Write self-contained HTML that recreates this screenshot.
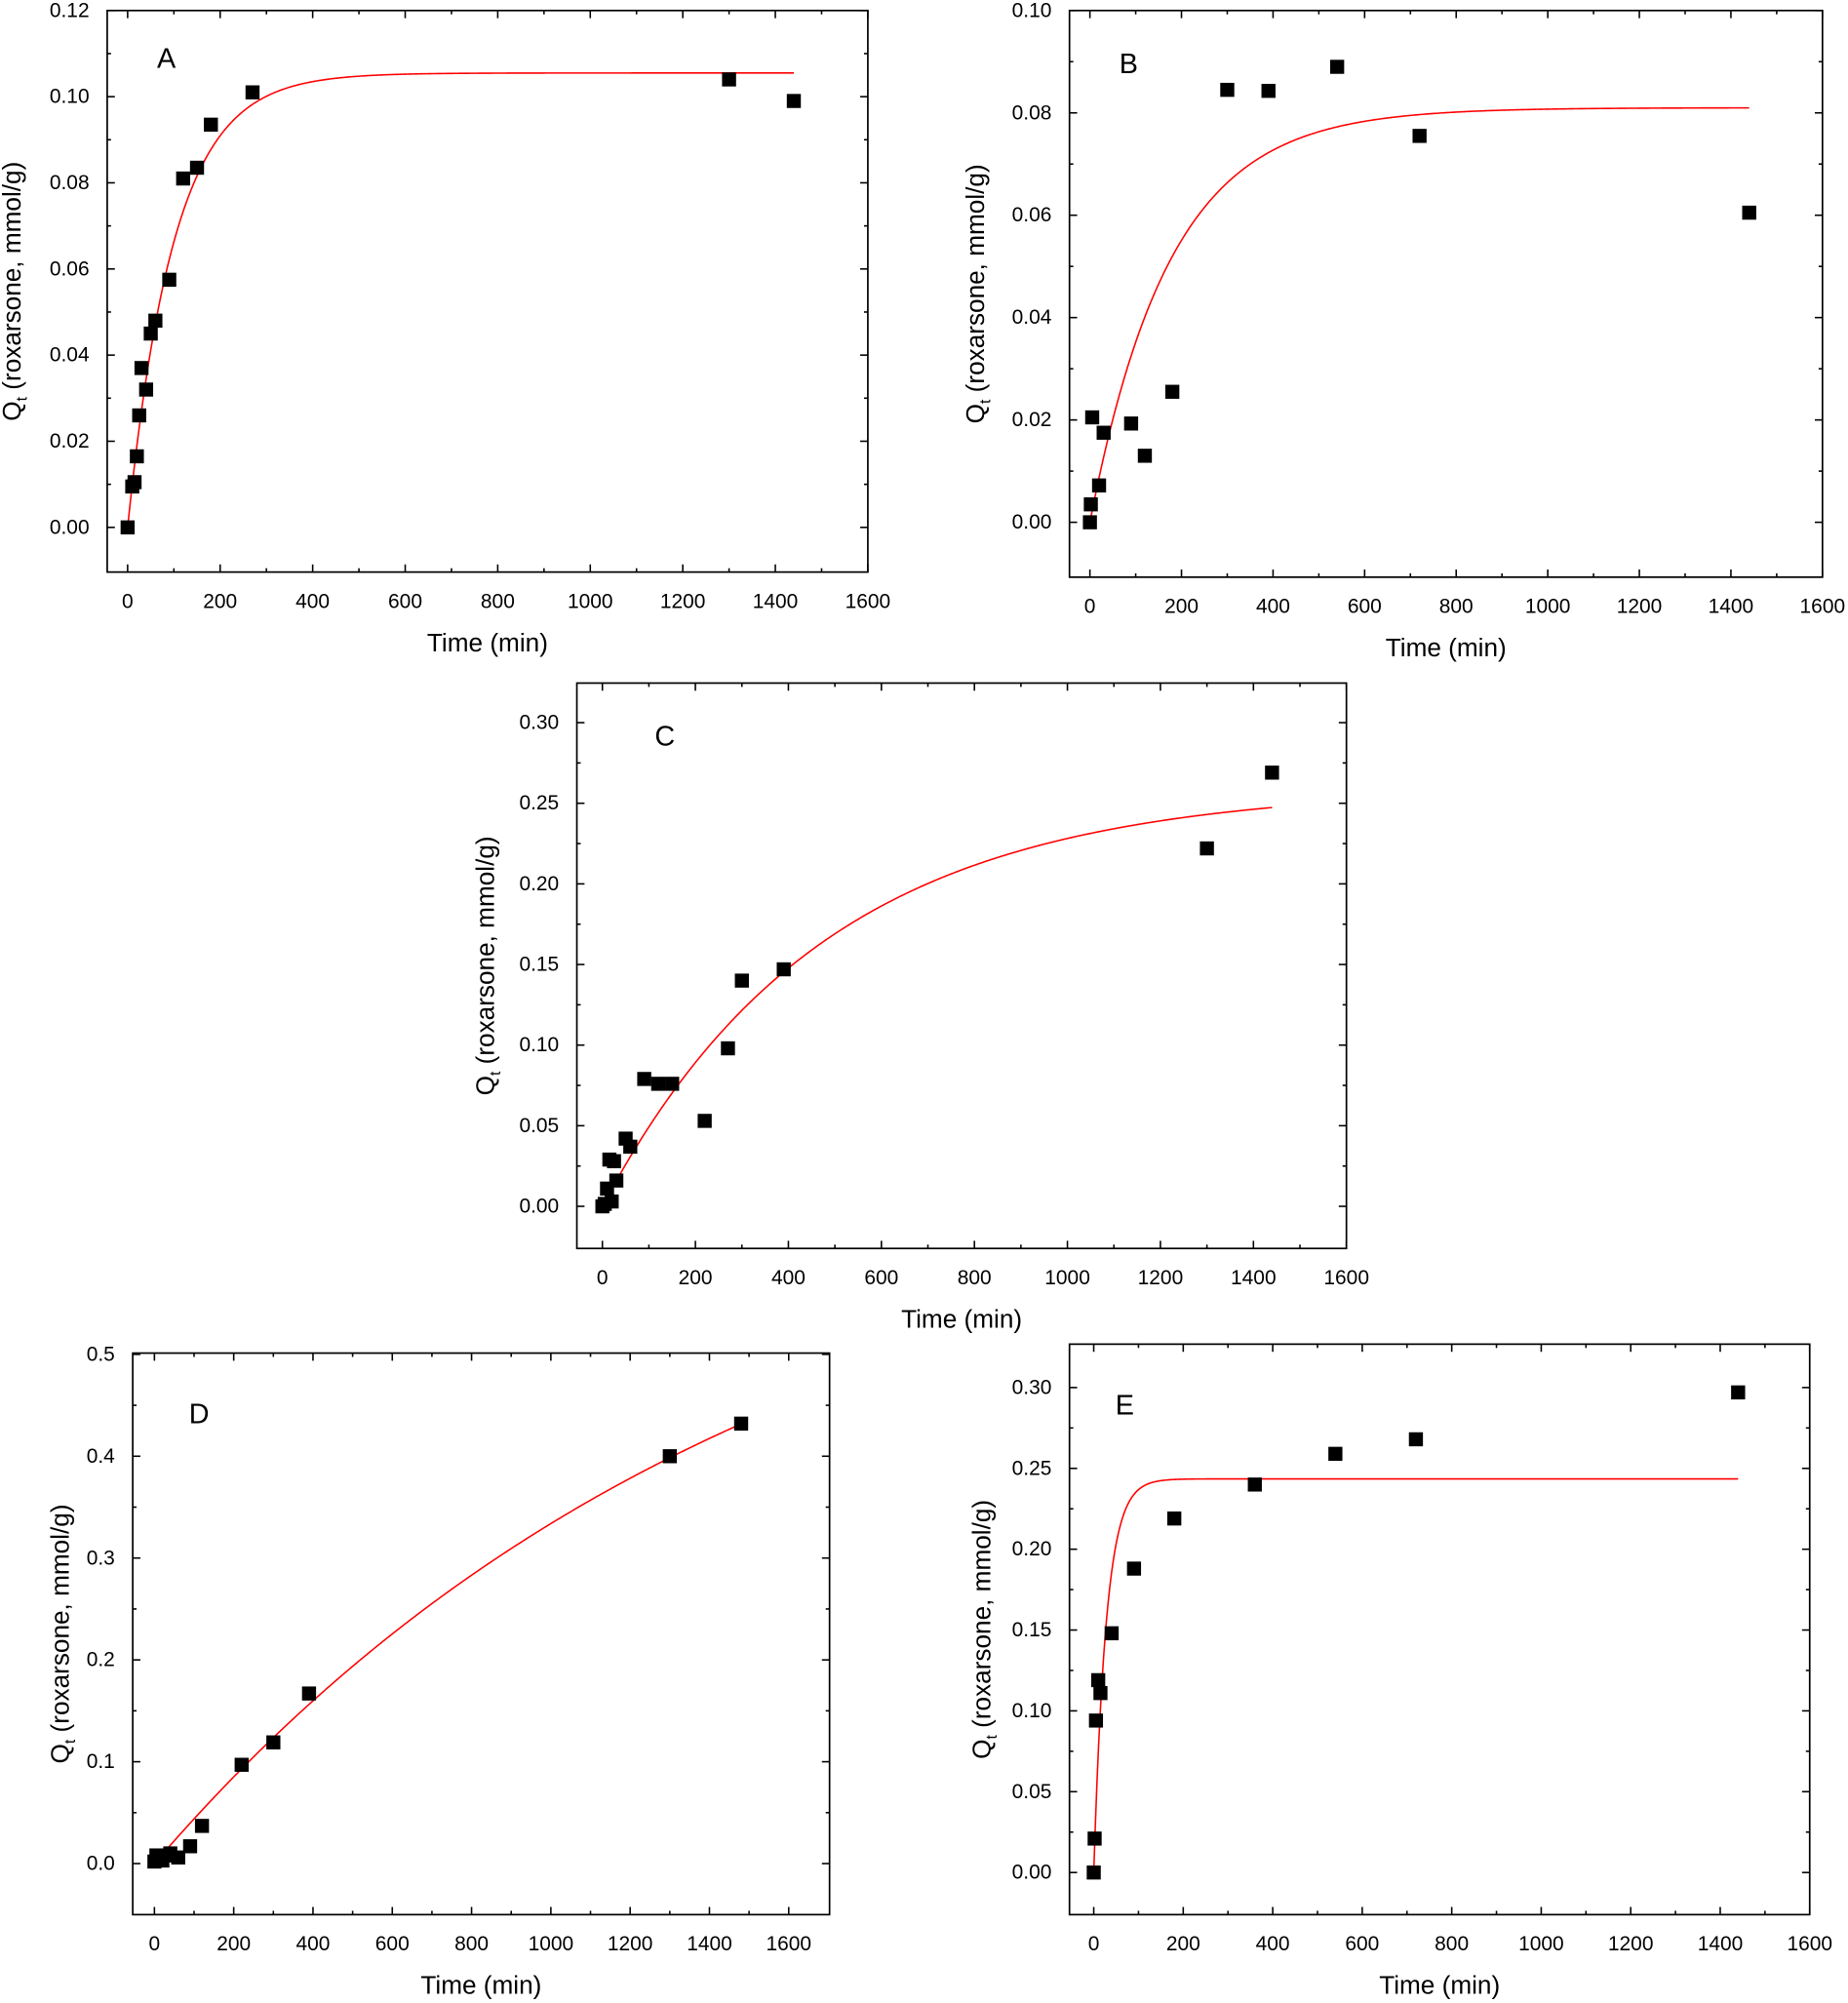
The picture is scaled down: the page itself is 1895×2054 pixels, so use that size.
<!DOCTYPE html>
<html><head><meta charset="utf-8"><style>
html,body{margin:0;padding:0;background:#fff}
svg{display:block}
text{font-family:"Liberation Sans",Arial,sans-serif;fill:#000}
</style></head><body>
<svg id="fig" width="1895" height="2054" viewBox="0 0 1448 1569" xmlns="http://www.w3.org/2000/svg"></svg>
<script>
// Panel A data
const aTime=[0,10,15,20,25,30,40,50,60,90,120,150,180,270,1300,1440];
const aQ=[0,.0095,.0105,.0165,.026,.037,.032,.045,.048,.0575,.081,.0835,.0935,.101,.104,.099];
const aFit=[0.1055,0.0099];
// Panel B data
const bTime=[0,2,5,20,30,90,120,180,300,390,540,720,1440];
const bQ=[0,.0035,.0205,.0072,.0175,.0193,.013,.0255,.0845,.0843,.089,.0755,.0605];
const bFit=[0.081,0.0057];
// Panel C data
const cTime=[0,5,10,15,20,25,30,50,60,90,120,150,220,270,300,390,1300,1440];
const cQ=[0,.0015,.011,.029,.003,.028,.016,.042,.037,.079,.076,.076,.053,.098,.140,.147,.222,.269];
const cFit=[0.26,0.0021];
// Panel D data
const dTime=[0,5,10,20,30,40,60,90,120,220,300,390,1300,1480];
const dQ=[.002,.008,.005,.003,.008,.01,.006,.017,.037,.097,.119,.167,.4,.432];
const dFit=[0.7,0.000648];
// Panel E data
const eTime=[0,2,5,10,15,40,90,180,360,540,720,1440];
const eQ=[0,.021,.094,.119,.111,.148,.188,.219,.24,.259,.268,.297];
const eFit=[0.2435,0.036];
// Tick labels
const xTicks=[0,200,400,600,800,1000,1200,1400,1600];
const yTicksA=[0,.02,.04,.06,.08,.10,.12];
const yTicksB=[0,.02,.04,.06,.08,.10];
const yTicksC=[0,.05,.10,.15,.20,.25,.30];
const yTicksD=[0,.1,.2,.3,.4,.5];
const yTicksE=[0,.05,.10,.15,.20,.25,.30];

const NS="http://www.w3.org/2000/svg";
const svg=document.getElementById('fig');
function mk(tag,attrs,parent){const e=document.createElementNS(NS,tag);for(const k in attrs)e.setAttribute(k,attrs[k]);(parent||svg).appendChild(e);return e;}

function panel(p){
  const g=mk('g',{});
  
  
  const X=v=>p.x0+(v-0)*(p.x1600-p.x0)/1600;
  const yTop=p.yt[p.yt.length-1];
  const Y=v=>p.y0-(v)*(p.y0-p.yTopPx)/yTop;
  const frame=mk('rect',{x:p.L,y:p.T,width:p.R-p.L,height:p.B-p.T,fill:'none',stroke:'#000','stroke-width':1.3},g);
  
  
  for(let v=0;v<=1600;v+=100){
    const major=v%200===0, len=major?6:3, x=X(v);
    mk('line',{x1:x,y1:p.B,x2:x,y2:p.B-len,stroke:'#000','stroke-width':1.2},g);
    mk('line',{x1:x,y1:p.T,x2:x,y2:p.T+len,stroke:'#000','stroke-width':1.2},g);
  }
  xTicks.forEach(v=>{const t=mk('text',{x:X(v),y:p.B+28,'font-size':16,'text-anchor':'middle'},g);t.textContent=v;
    
    });
  const step=p.yt[1]-p.yt[0];
  for(let i=0;i<p.yt.length;i++){
    [p.yt[i], p.yt[i]+step/2].forEach((v,j)=>{
      if(v>yTop+1e-9)return;
      const y=Y(v),len=j===0?6:3;
      mk('line',{x1:p.L,y1:y,x2:p.L+len,y2:y,stroke:'#000','stroke-width':1.2},g);
      mk('line',{x1:p.R,y1:y,x2:p.R-len,y2:y,stroke:'#000','stroke-width':1.2},g);
    });
    const t=mk('text',{x:p.L-14,y:Y(p.yt[i])+5,'font-size':16,'text-anchor':'end'},g);
    t.textContent=p.yt[i].toFixed(p.dec);
    
    
  }
  const xt=mk('text',{x:(p.L+p.R)/2,y:p.B+62,'font-size':20,'text-anchor':'middle'},g);
  xt.textContent='Time (min)';
  
  
  const yt=mk('text',{transform:`translate(${p.yx},${(p.T+p.B)/2}) rotate(-90)`,'font-size':20,'text-anchor':'middle'},g);
  yt.innerHTML='Q<tspan font-size="12" dy="5">t</tspan><tspan dy="-5"> (roxarsone, mmol/g)</tspan>';
  
  
  const lab=mk('text',{x:p.lx,y:p.ly,'font-size':22},g);
  lab.textContent=p.id;
  
  
  let d='';
  const tmax=p.t[p.t.length-1];
  for(let i=0;i<=400;i++){const t=tmax*i/400;const q=p.fit[0]*(1-Math.exp(-p.fit[1]*t));d+=(i?'L':'M')+X(t).toFixed(2)+','+Y(q).toFixed(2);}
  const c=mk('path',{d:d,fill:'none',stroke:'#ff0000','stroke-width':1.2},g);
  
  
  p.t.forEach((t,i)=>{
    const r=mk('rect',{x:X(t)-5.5,y:Y(p.q[i])-5.5,width:11,height:11,fill:'#000'},g);
    
    
  });
}
panel({id:'A',L:84,R:680,T:8,B:448,x0:100,x1600:680,y0:413,yTopPx:8,yt:yTicksA,dec:2,t:aTime,q:aQ,fit:aFit,yx:16,lx:123,ly:53});
panel({id:'B',L:838,R:1428,T:8,B:452,x0:854,x1600:1428,y0:409,yTopPx:8,yt:yTicksB,dec:2,t:bTime,q:bQ,fit:bFit,yx:771,lx:877,ly:57});
panel({id:'C',L:452,R:1055,T:535,B:978,x0:472,x1600:1055,y0:945,yTopPx:566,yt:yTicksC,dec:2,t:cTime,q:cQ,fit:cFit,yx:387,lx:513,ly:584});
panel({id:'D',L:104,R:650,T:1060,B:1500,x0:121,x1600:618,y0:1460,yTopPx:1061,yt:yTicksD,dec:1,t:dTime,q:dQ,fit:dFit,yx:54,lx:148,ly:1115});
panel({id:'E',L:838,R:1418,T:1053,B:1500,x0:857,x1600:1418,y0:1467,yTopPx:1087,yt:yTicksE,dec:2,t:eTime,q:eQ,fit:eFit,yx:776,lx:874,ly:1108});
</script>
</body></html>
